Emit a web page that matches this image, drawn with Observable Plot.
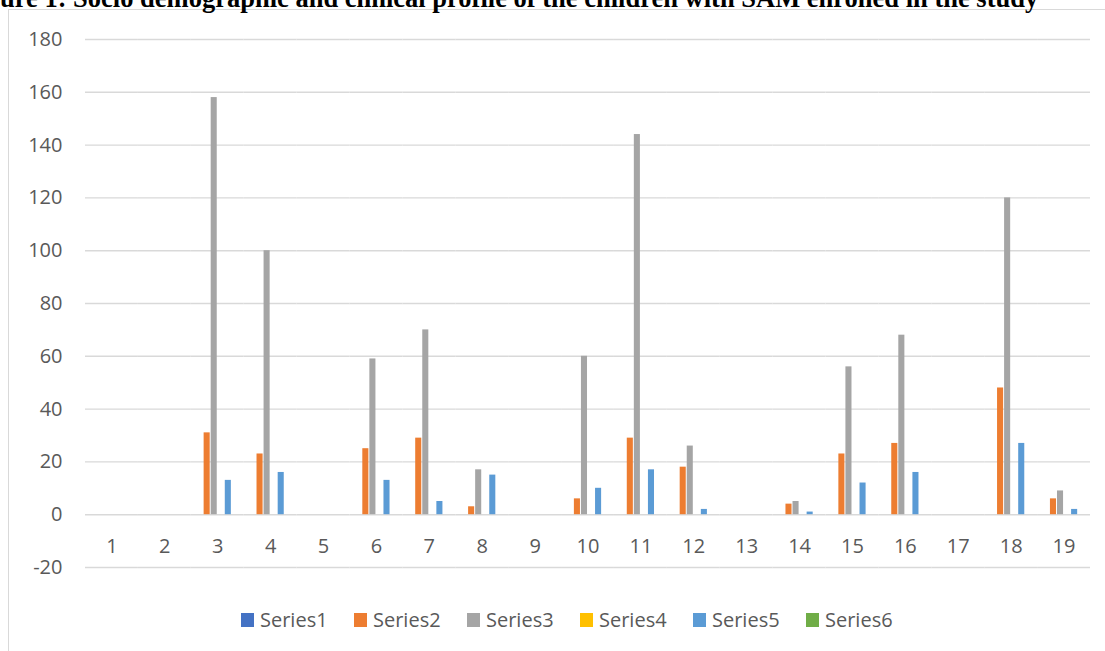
<!DOCTYPE html>
<html>
<head>
<meta charset="utf-8">
<script src="https://cdn.jsdelivr.net/npm/d3@7"></script>
<script src="https://cdn.jsdelivr.net/npm/@observablehq/plot@0.6"></script>
<style>
  html, body { margin: 0; padding: 0; background: #fff; width: 1105px; height: 651px; overflow: hidden; }
  #wrap { position: relative; width: 1105px; height: 651px; }
  #title { position: absolute; left: 0; top: -15px; font: bold 26.5px "Liberation Serif", "Times New Roman", serif; color: #000; white-space: nowrap; line-height: 26px; z-index: 3; }
  #border { position: absolute; left: 8px; top: 9px; width: 1200px; height: 700px; border-top: 1.5px solid #d9d9d9; border-left: 1.5px solid #d9d9d9; z-index: 2; }
  #chart { position: absolute; left: 0; top: 0; z-index: 1; }
  #legend { position: absolute; left: 241px; top: 606px; display: flex; font: 20px "Open Sans", sans-serif; color: #595959; z-index: 3; }
  .item { width: 113px; display: flex; align-items: center; white-space: nowrap; }
  .sw { width: 13px; height: 14px; margin-right: 6px; flex: none; }
</style>
</head>
<body>
<div id="wrap">
  <div id="title">ure 1: Socio demographic and clinical profile of the children with SAM enrolled in the study</div>
  <div id="chart"></div>
  <div id="border"></div>
  <div id="legend"></div>
</div>
<script>
const categories = ["1","2","3","4","5","6","7","8","9","10","11","12","13","14","15","16","17","18","19"];
const seriesNames = ["Series1","Series2","Series3","Series4","Series5","Series6"];
const seriesColors = ["#4472C4","#ED7D31","#A5A5A5","#FFC000","#5B9BD5","#70AD47"];
const series1 = [0,0,0,0,0,0,0,0,0,0,0,0,0,0,0,0,0,0,0];
const series2 = [0,0,31,23,0,25,29,3,0,6,29,18,0,4,23,27,0,48,6];
const series3 = [0,0,158,100,0,59,70,17,0,60,144,26,0,5,56,68,0,120,9];
const series4 = [0,0,0,0,0,0,0,0,0,0,0,0,0,0,0,0,0,0,0];
const series5 = [0,0,13,16,0,13,5,15,0,10,17,2,0,1,12,16,0,27,2];
const series6 = [0,0,0,0,0,0,0,0,0,0,0,0,0,0,0,0,0,0,0];
const yTicks = [-20,0,20,40,60,80,100,120,140,160,180];

const allSeries = [series1, series2, series3, series4, series5, series6];
const data = [];
categories.forEach((c, i) => {
  seriesNames.forEach((s, j) => {
    data.push({cat: c, series: s, value: allSeries[j][i]});
  });
});

const chart = Plot.plot({
  width: 1105,
  height: 600,
  marginLeft: 85,
  marginRight: 15,
  marginTop: 39,
  marginBottom: 33,
  style: {fontFamily: "Open Sans, sans-serif", fontSize: "20px", color: "#595959", background: "transparent", overflow: "visible"},
  fx: {domain: categories, padding: 0, round: false, axis: null},
  x: {domain: seriesNames, paddingInner: 0.14, paddingOuter: 0.82, round: false, axis: null},
  y: {domain: [-20, 180], ticks: yTicks, tickSize: 0, tickPadding: 23, label: null, tickFormat: d => `${d}`},
  color: {domain: seriesNames, range: seriesColors},
  marks: [
    Plot.ruleY(yTicks, {stroke: "#d9d9d9", strokeWidth: 1.4}),
    Plot.barY(data, {fx: "cat", x: "series", y: "value", fill: "series"}),
    Plot.text(categories, {fx: d => d, y: () => -12, text: d => d, fill: "#595959", fontSize: 20})
  ]
});
document.getElementById("chart").appendChild(chart);

const legend = document.getElementById("legend");
seriesNames.forEach((s, i) => {
  const item = document.createElement("div");
  item.className = "item";
  const sw = document.createElement("span");
  sw.className = "sw";
  sw.style.background = seriesColors[i];
  const t = document.createElement("span");
  t.textContent = s;
  item.appendChild(sw);
  item.appendChild(t);
  legend.appendChild(item);
});
</script>
</body>
</html>
